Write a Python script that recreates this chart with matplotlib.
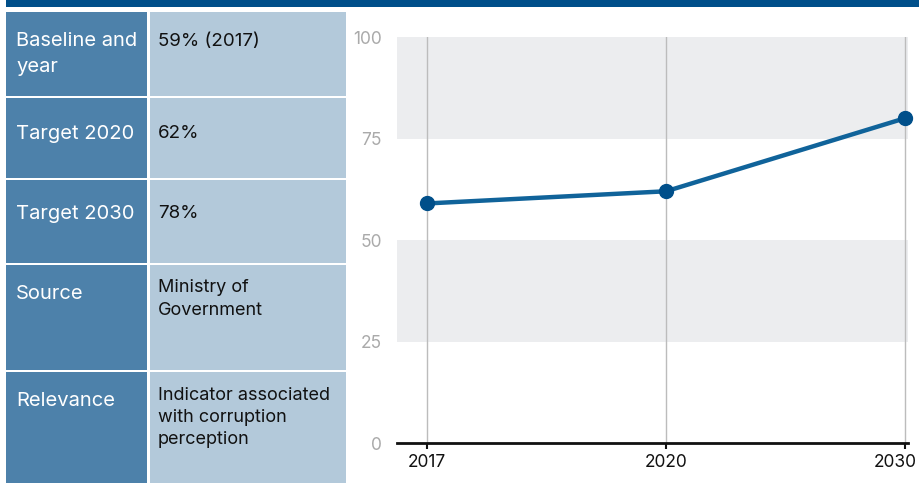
import matplotlib
matplotlib.use("Agg")
import matplotlib.pyplot as plt
from matplotlib.patches import Rectangle
from matplotlib.transforms import ScaledTranslation

plt.rcParams['font.family'] = ['Inter', 'DejaVu Sans']

# table contents
row_labels = [["Baseline and", "year"], ["Target 2020"], ["Target 2030"], ["Source"], ["Relevance"]]
row_values = [["59% (2017)"], ["62%"], ["78%"], ["Ministry of", "Government"],
              ["Indicator associated", "with corruption", "perception"]]

# chart data
years = ["2017", "2020", "2030"]
values = [59, 62, 80]
y_ticks = [0, 25, 50, 75, 100]

W, H = 919, 483
fig = plt.figure(figsize=(W / 100, H / 100), dpi=100)


def fx(x):
    return x / W


def fy(y):
    return 1 - y / H


def rect(x0, y0, x1, y1, color):
    fig.patches.append(Rectangle((fx(x0), fy(y1)), fx(x1 - x0), (y1 - y0) / H,
                                 transform=fig.transFigure, color=color, lw=0, zorder=0))


# top bar
rect(6, 0, W, 7, "#004f8a")

# table rows (top, bottom, first text line centre)
rows = [(12, 96, 41), (98, 178, 134), (180, 263, 214), (265, 370, 294), (372, 483, 401)]
for (top, bottom, ty), labels, vals in zip(rows, row_labels, row_values):
    rect(6, top, 147, bottom, "#4d81aa")
    rect(150, top, 346, bottom, "#b3c9da")
    for i, t in enumerate(labels):
        fig.text(fx(16), fy(ty + i * 26), t, color="white", fontsize=14.5, va="center", ha="left")
    small = len(vals) > 1
    step = 22.5 if small else 26
    fs = 13 if small else 13.5
    off = -6 if small else 0
    for i, t in enumerate(vals):
        fig.text(fx(158), fy(ty + off + i * step), t, color="#111111", fontsize=fs, va="center", ha="left")

# chart
ax = fig.add_axes([fx(397), fy(443), fx(908 - 397), (443 - 37) / H])
x = list(range(len(years)))
ax.set_xlim(-0.125, 2.012)
ax.set_ylim(0, 100)
for lo in (25, 75):
    ax.axhspan(lo, lo + 25, color="#ecedef", lw=0, zorder=0)
for xi in x:
    ax.axvline(xi, color="#bcbcbc", lw=1, zorder=1)
ax.plot(x, values, color="#10639a", lw=3.2, zorder=3, clip_on=False)
ax.plot(x, values, "o", color="#004f8a", ms=10, zorder=4, clip_on=False)

for s in ("top", "right", "left"):
    ax.spines[s].set_visible(False)
ax.spines["bottom"].set_linewidth(2)
ax.spines["bottom"].set_color("#111111")
ax.set_xticks(x)
ax.set_xticklabels(years, fontsize=12.5, color="#111111")
ax.tick_params(axis="x", length=4, width=1.5, color="#111111", pad=4)
ax.set_yticks(y_ticks)
ax.set_yticklabels([str(v) for v in y_ticks], fontsize=12.5, color="#aaaaaa")
ax.tick_params(axis="y", length=0, pad=11)

# last year label is pulled in to stay inside the picture
last = ax.get_xticklabels()[-1]
last.set_transform(last.get_transform() + ScaledTranslation(-0.1, 0, fig.dpi_scale_trans))

fig.savefig("out.png", dpi=100)
